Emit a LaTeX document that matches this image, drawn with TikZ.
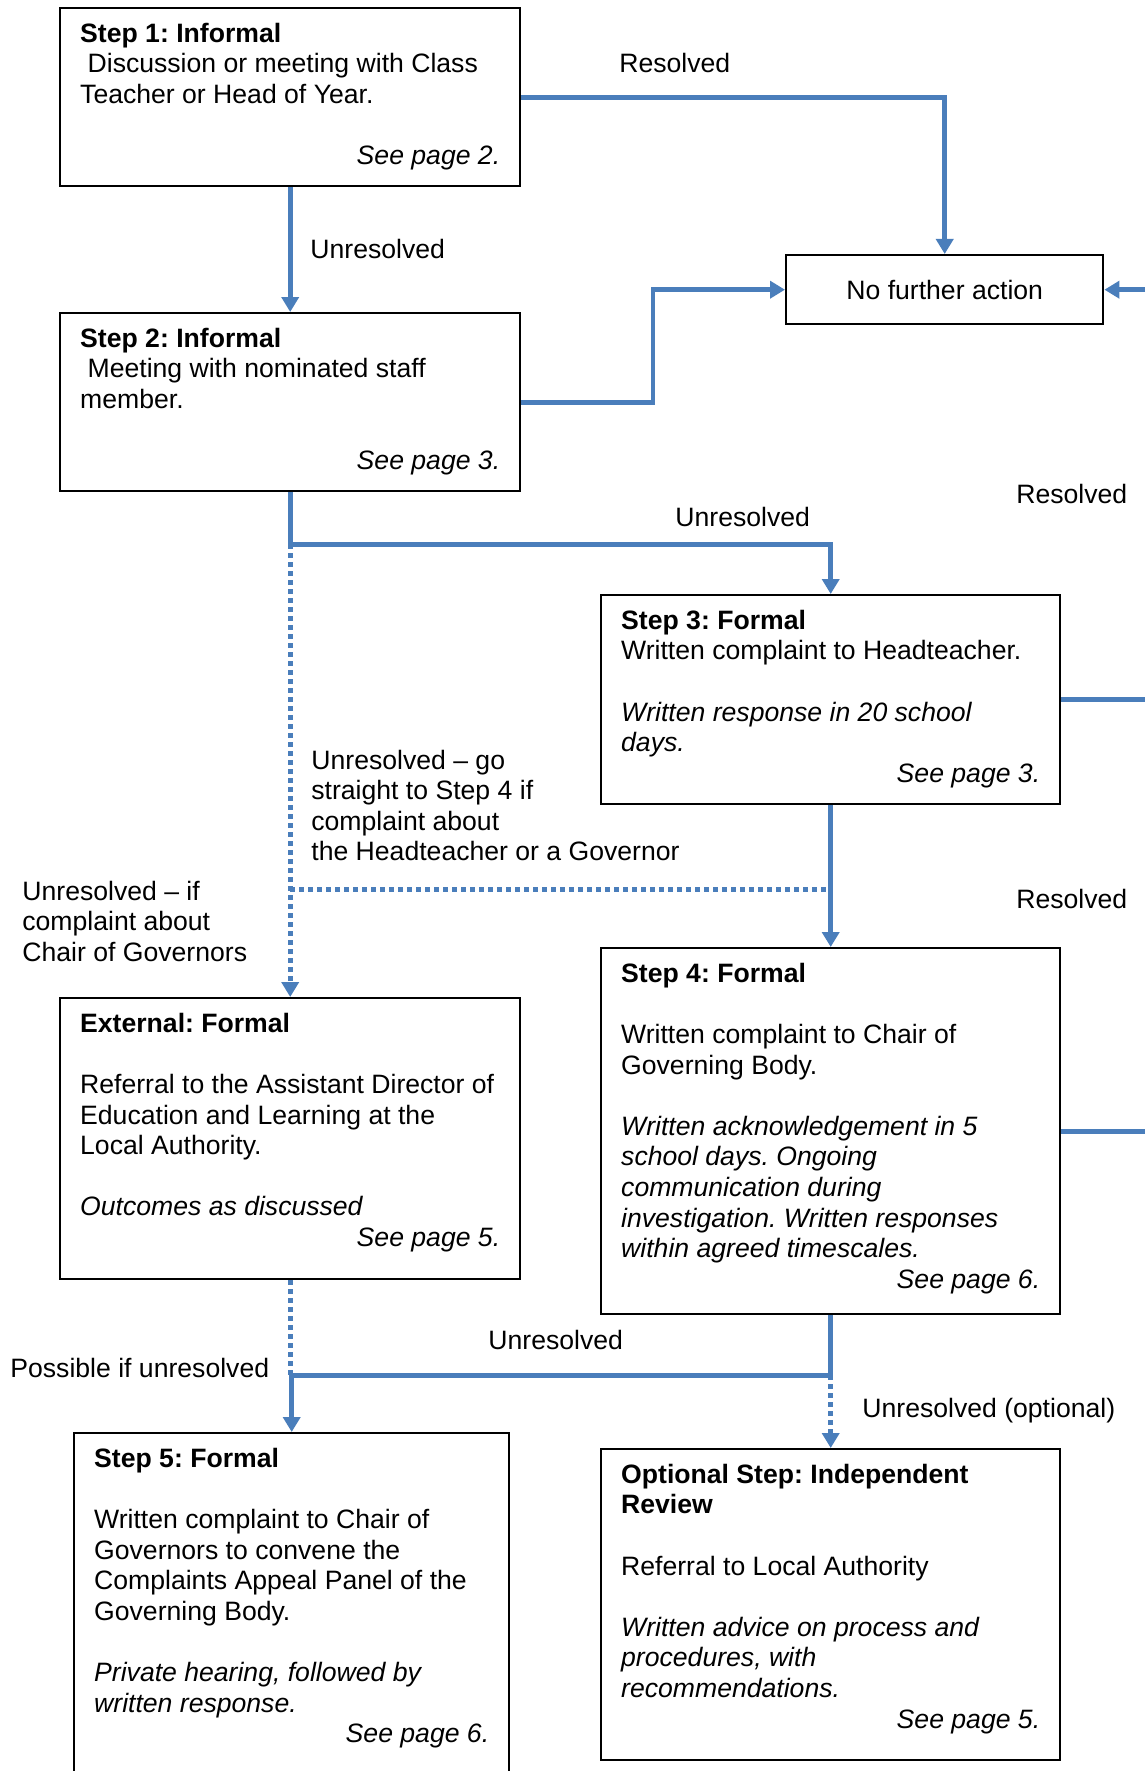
\documentclass[tikz,border=0pt]{standalone}
\usepackage{fontspec}
\setmainfont{Liberation Sans}
\usetikzlibrary{positioning, arrows.meta}
\frenchspacing
\definecolor{flowblue}{HTML}{4A7EBB}
\newcommand{\mainsize}{\fontsize{13.3}{15.3}\selectfont}
\newcommand{\boxbody}[3]{\parbox[c][#1][t]{#2}{\strut#3}}
\newcommand{\seepage}[1]{\hspace*{\fill}\textit{See page #1.}}

\begin{document}
\begin{tikzpicture}[
        x=0.5pt, y=-0.5pt,
        >={Triangle[width=8.5pt, length=7.5pt]},
        font=\mainsize,
        stepbox/.style={draw, line width=1.2pt, anchor=north west, inner xsep=10pt, inner ysep=6.3pt},
        endbox/.style={draw, line width=1.2pt, anchor=north west, inner sep=0pt, minimum width=158.5pt, minimum height=34.5pt},
        flow/.style={draw=flowblue, line width=2.4pt},
        dotflow/.style={draw=flowblue, line width=2.5pt, dash pattern=on 2.5pt off 2pt},
        lbl/.style={anchor=north west, inner sep=0pt, align=left},
    ]
        \path[use as bounding box, fill=white] (0,0) rectangle (1145,1771);
        \coordinate (pageR) at (1145,0);
        \coordinate (bendA) at (653,0);

        % Draw the informal steps
        \node[stepbox] (s1) at (59,7) {\boxbody{76.4pt}{210pt}{\textbf{Step 1: Informal}\\
            \hspace*{.28em}Discussion or meeting with Class\\
            Teacher or Head of Year.\\[15.3pt]
            \seepage{2}}};
        \node[stepbox] (s2) at (59,312) {\boxbody{76.4pt}{210pt}{\textbf{Step 2: Informal}\\
            \hspace*{.28em}Meeting with nominated staff\\
            member.\\[15.3pt]
            \seepage{3}}};
        \node[endbox] (nfa) at (785,254) {No further action};

        % Draw the formal steps
        \node[stepbox] (s3) at (600,594) {\boxbody{91.9pt}{209.5pt}{\textbf{Step 3: Formal}\\
            Written complaint to Headteacher.\\[15.3pt]
            \textit{Written response in 20 school}\\
            \textit{days.}\\
            \seepage{3}}};
        \node[stepbox] (s4) at (600,947) {\boxbody{170.4pt}{209.5pt}{\textbf{Step 4: Formal}\\[15.3pt]
            Written complaint to Chair of\\
            Governing Body.\\[15.3pt]
            \textit{Written acknowledgement in 5}\\
            \textit{school days. Ongoing}\\
            \textit{communication during}\\
            \textit{investigation. Written responses}\\
            \textit{within agreed timescales.}\\
            \seepage{6}}};
        \node[stepbox] (ext) at (59,997) {\boxbody{127.9pt}{210pt}{\textbf{External: Formal}\\[15.3pt]
            Referral to the Assistant Director of\\
            Education and Learning at the\\
            Local Authority.\\[15.3pt]
            \textit{Outcomes as discussed}\\
            \seepage{5}}};
        \node[stepbox] (s5) at (73,1432) {\boxbody{171.4pt}{197.5pt}{\textbf{Step 5: Formal}\\[15.3pt]
            Written complaint to Chair of\\
            Governors to convene the\\
            Complaints Appeal Panel of the\\
            Governing Body.\\[15.3pt]
            \textit{Private hearing, followed by}\\
            \textit{written response.}\\
            \seepage{6}}};
        \node[stepbox] (opt) at (600,1448) {\boxbody{142.9pt}{209.5pt}{\textbf{Optional Step: Independent}\\
            \textbf{Review}\\[15.3pt]
            Referral to Local Authority\\[15.3pt]
            \textit{Written advice on process and}\\
            \textit{procedures, with}\\
            \textit{recommendations.}\\
            \seepage{5}}};

        % Resolved routes to no further action
        \draw[flow, ->] (s1.east) -| (nfa.north);
        \draw[flow, ->] (s2.east) -| (bendA |- nfa.west) -- (nfa.west);
        \draw[flow, ->] (nfa.east -| pageR) -- (nfa.east);
        \foreach \src in {s3, s4}
            \draw[flow] (\src.east) -- (\src.east -| pageR);

        % Unresolved routes down the steps
        \draw[flow, ->] (s1.south) -- (s2.north);
        \path (s2.south) ++(0,52) coordinate (split);
        \draw[dotflow, ->] (split) -- (ext.north);
        \draw[dotflow] (split |- 0,889) -- (s3.south |- 0,889);
        \draw[flow, ->] (s2.south) -- (split) -| (s3.north);
        \draw[flow, ->] (s3.south) -- (s4.north);

        \path (s4.south) ++(0,60) coordinate (merge);
        \draw[dotflow] (ext.south) -- (ext.south |- merge);
        \draw[dotflow, ->] (merge) -- (opt.north);
        \draw[flow, ->] (s4.south) -- (merge) -| (s5.north);

        % Connector labels
        \node[lbl] (resTop) at (619,53) {Resolved};
        \node[lbl] (unresA) at (310,238.5) {Unresolved};
        \node[lbl] (unresB) at (675,506.5) {Unresolved};
        \foreach \name/\y in {resMid/483.5, resLow/888.5}
            \node[lbl] (\name) at (1016,\y) {Resolved};
        \node[lbl] (skipNote) at (311,749.5) {Unresolved – go\\straight to Step 4 if\\complaint about\\the Headteacher or a Governor};
        \node[lbl] (chairNote) at (22,880.5) {Unresolved – if\\complaint about\\Chair of Governors};
        \node[lbl] (unresC) at (488,1329.5) {Unresolved};
        \node[lbl] (possNote) at (10,1357.5) {Possible if unresolved};
        \node[lbl] (optNote) at (862,1397.5) {Unresolved (optional)};
    \end{tikzpicture}
\end{document}
